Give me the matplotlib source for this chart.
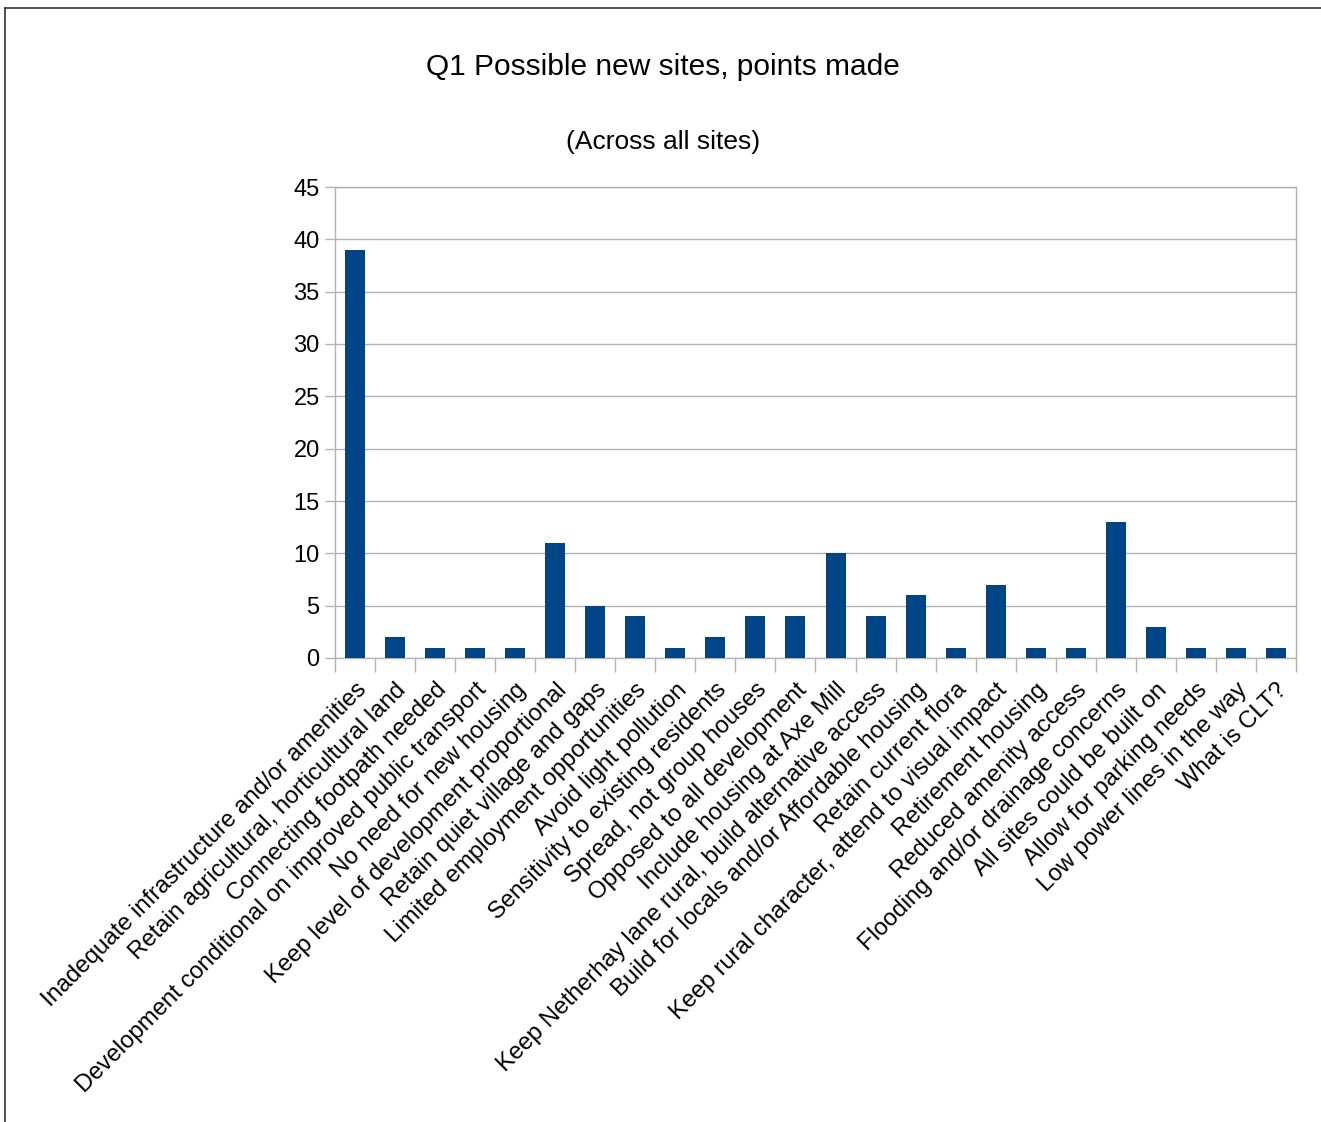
import matplotlib
matplotlib.use("Agg")
import matplotlib.pyplot as plt
from matplotlib.lines import Line2D

plt.rcParams['font.family'] = ['Liberation Sans', 'DejaVu Sans']

categories = [
    "Inadequate infrastructure and/or amenities",
    "Retain agricultural, horticultural land",
    "Connecting footpath needed",
    "Development conditional on improved public transport",
    "No need for new housing",
    "Keep level of development proportional",
    "Retain quiet village and gaps",
    "Limited employment opportunities",
    "Avoid light pollution",
    "Sensitivity to existing residents",
    "Spread, not group houses",
    "Opposed to all development",
    "Include housing at Axe Mill",
    "Keep Netherhay lane rural, build alternative access",
    "Build for locals and/or Affordable housing",
    "Retain current flora",
    "Keep rural character, attend to visual impact",
    "Retirement housing",
    "Reduced amenity access",
    "Flooding and/or drainage concerns",
    "All sites could be built on",
    "Allow for parking needs",
    "Low power lines in the way",
    "What is CLT?",
]
values = [39, 2, 1, 1, 1, 11, 5, 4, 1, 2, 4, 4, 10, 4, 6, 1, 7, 1, 1, 13, 3, 1, 1, 1]
yticks = [0, 5, 10, 15, 20, 25, 30, 35, 40, 45]

W, H = 1321, 1122
fig = plt.figure(figsize=(W / 100, H / 100), dpi=100)
ax = fig.add_axes([335 / W, 1 - 658 / H, (1296 - 335) / W, (658 - 187) / H])

n = len(categories)
x = list(range(n))
ax.bar(x, values, width=0.5, color="#004586", zorder=3)
ax.set_xlim(-0.5, n - 0.5)
ax.set_ylim(0, 45)
ax.set_yticks(yticks)
ax.yaxis.grid(True, color="#b3b3b3", linewidth=1.0, zorder=0)
ax.set_yticklabels([str(v) for v in yticks], fontsize=17)
ax.tick_params(axis='y', length=7, color="#b3b3b3", width=1.0, pad=4)

# category ticks at boundaries
ax.set_xticks([i - 0.5 for i in range(n + 1)], minor=True)
ax.set_xticks(x)
ax.set_xticklabels(categories, rotation=45, ha='right', va='top',
                   rotation_mode='anchor', fontsize=17.2)
ax.tick_params(axis='x', which='major', length=0, pad=15)
ax.tick_params(axis='x', which='minor', length=10, color="#b3b3b3", width=1.0)

for s in ['top', 'right', 'left', 'bottom']:
    ax.spines[s].set_color("#b3b3b3")
    ax.spines[s].set_linewidth(1.0)

fig.text(663 / W, 1 - 67 / H, "Q1 Possible new sites, points made",
         ha='center', va='center', fontsize=21.5)
fig.text(663 / W, 1 - 142 / H, "(Across all sites)",
         ha='center', va='center', fontsize=19)

# outer border (left and top visible)
fig.add_artist(Line2D([5 / W, 5 / W], [0, 1 - 8 / H], transform=fig.transFigure,
                      color="#333333", linewidth=1.2))
fig.add_artist(Line2D([5 / W, 1], [1 - 8 / H, 1 - 8 / H], transform=fig.transFigure,
                      color="#333333", linewidth=1.2))

fig.savefig("out.png", dpi=100)
